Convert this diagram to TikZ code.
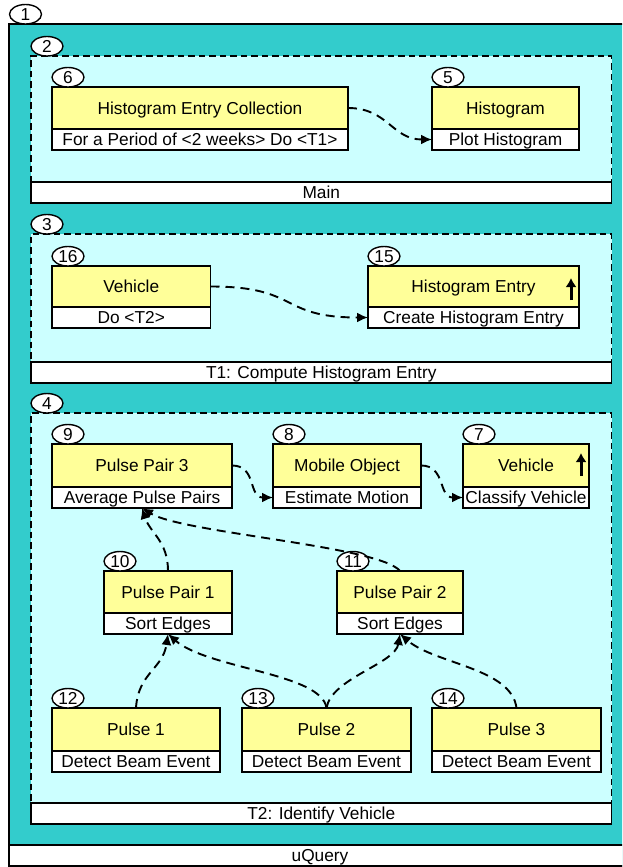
\documentclass[tikz,border=0pt]{standalone}
\usepackage{fontspec}
\setmainfont{Liberation Sans}
\usetikzlibrary{arrows.meta,shapes.geometric}
\definecolor{shellc}{HTML}{33CCCC}
\definecolor{areac}{HTML}{CCFFFF}
\definecolor{titlec}{HTML}{FFFF99}
\newcommand\lblfont{\fontsize{17.3}{20}\selectfont}
% module: yellow title box, white operation box below it, numbered tag above
\newcommand\umod[8]{%
  \node[ttl, minimum width=#5pt, minimum height=#6pt] (#1) at (#3,#4) {#7};
  \node[meth, minimum width=#5pt] (#1m) at (#1.south west) {#8};
  \node[tagov] (t#1) at ([xshift=16pt]#1.north west) {#2};
}
% task group: dashed area, name band at its foot, numbered tag above
\newcommand\ugrp[7]{%
  \node[grp, minimum width=#5pt, minimum height=#6pt] (#1) at (#3,#4) {};
  \node[band, minimum width=#5pt, anchor=south west] (#1b) at (#1.south west) {#7};
  \node[tagov] (t#1) at ([xshift=16pt]#1.north west) {#2};
}
\begin{document}
\begin{tikzpicture}[x=1pt,y=-1pt,
  every node/.style={outer sep=0pt, font=\lblfont},
  ttl/.style={draw, line width=1.7pt, fill=titlec, anchor=north west, inner sep=0pt,
    text height=14.5pt, text depth=2.5pt},
  meth/.style={draw, line width=1.7pt, fill=white, anchor=north west, inner sep=0pt,
    minimum height=21pt, text height=14.5pt, text depth=2.5pt},
  band/.style={draw, line width=1.7pt, fill=white, anchor=north west, inner sep=0pt,
    minimum height=21pt, text height=14.5pt, text depth=2.5pt},
  tagov/.style={draw, line width=1.4pt, fill=white, ellipse, inner sep=0pt,
    minimum width=32pt, minimum height=19.5pt, anchor=south, text height=13pt, text depth=0pt},
  grp/.style={draw, line width=1.8pt, dash pattern=on 6.5pt off 4pt, fill=areac,
    anchor=north west, inner sep=0pt},
  shell/.style={draw, line width=1.8pt, fill=shellc, anchor=north west, inner sep=0pt},
  flow/.style={line width=1.9pt, dash pattern=on 9pt off 6pt, -{Latex[length=11pt,width=10pt]}},
  upmark/.style={line width=3pt, -{Latex[length=9pt,width=11pt]}},
]
\useasboundingbox (0,0) rectangle (622,867);
\fill[white] (0,0) rectangle (622,867);
\clip (0,0) rectangle (622,867);

% outer query frame
\node[shell, minimum width=622pt, minimum height=842pt] (g1) at (9,24) {};
\node[band, minimum width=622pt, anchor=south west] (g1b) at (g1.south west) {uQuery};
\node[tagov] (tg1) at ([xshift=16.5pt]g1.north west) {1};

% task groups
\ugrp{g2}{2}{31}{56}{580.5}{147}{Main}
\ugrp{g3}{3}{31}{234}{580.5}{149}{T1: Compute Histogram Entry}
\ugrp{g4}{4}{31}{413}{580.5}{411}{T2: Identify Vehicle}

% modules
\umod{n6}{6}{52}{87}{296}{42}{Histogram Entry Collection}{For a Period of <2 weeks> Do <T1>}
\umod{n5}{5}{432}{87}{147}{42}{Histogram}{Plot Histogram}
\umod{n16}{16}{52}{266}{158.5}{41}{Vehicle}{Do <T2>}
\umod{n15}{15}{368}{266}{211}{41}{Histogram Entry}{Create Histogram Entry}
\umod{n9}{9}{52}{444}{180}{43}{Pulse Pair 3}{Average Pulse Pairs}
\umod{n8}{8}{273}{444}{148}{43}{Mobile Object}{Estimate Motion}
\umod{n7}{7}{463}{444}{126}{43}{Vehicle}{Classify Vehicle}
\umod{n10}{10}{104}{571}{128}{42}{Pulse Pair 1}{Sort Edges}
\umod{n11}{11}{337}{571}{126}{42}{Pulse Pair 2}{Sort Edges}
\umod{n12}{12}{52}{708}{168}{43}{Pulse 1}{Detect Beam Event}
\umod{n13}{13}{242}{708}{169}{43}{Pulse 2}{Detect Beam Event}
\umod{n14}{14}{432}{708}{169}{43}{Pulse 3}{Detect Beam Event}

% output marks
\draw[upmark] ([xshift=-8pt,yshift=7pt]n15.south east) -- ([xshift=-8pt,yshift=-12pt]n15.north east);
\draw[upmark] ([xshift=-8pt,yshift=11pt]n7.south east) -- ([xshift=-8pt,yshift=-9pt]n7.north east);

% data flow
\draw[flow] (n6.east) .. controls +(40,0) and +(-40,0) .. (n5m.west);
\draw[flow] (n16.east) .. controls +(90,0) and +(-90,0) .. (n15m.west);
\draw[flow] (n9.east) .. controls +(25,0) and +(-25,0) .. (n8m.west);
\draw[flow] (n8.east) .. controls +(25,0) and +(-25,0) .. (n7m.west);
\draw[flow] (n10.north) .. controls +(0,-30) and +(8,25) .. (n9m.south);
\draw[flow] (n11.north) .. controls +(-20,-25) and +(40,25) .. (n9m.south);
\draw[flow] (n12.north) .. controls +(2,-35) and +(-5,35) .. (n10m.south);
\draw[flow] (n13.north) .. controls +(-5,-35) and +(40,35) .. (n10m.south);
\draw[flow] (n13.north) .. controls +(5,-30) and +(-5,30) .. (n11m.south);
\draw[flow] (n14.north) .. controls +(-5,-40) and +(35,30) .. (n11m.south);
\end{tikzpicture}
\end{document}
